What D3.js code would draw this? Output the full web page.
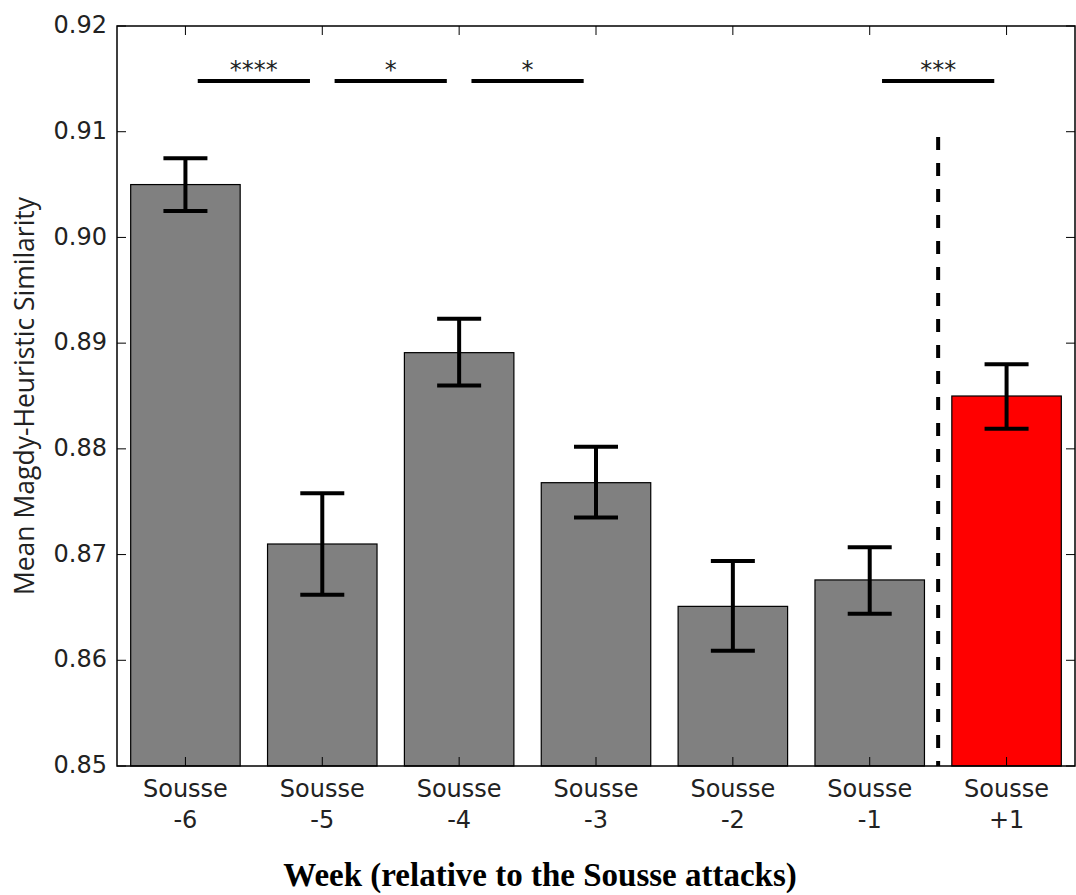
<!DOCTYPE html>
<html>
<head>
<meta charset="utf-8">
<script src="https://cdn.jsdelivr.net/npm/d3@7"></script>
<style>
  html, body { margin: 0; padding: 0; background: #fff; }
  svg { display: block; }
</style>
</head>
<body>
<svg id="chart" width="1076" height="895"></svg>
<script>
// Weekly means with error-bar bounds
const categories = ["Sousse -6", "Sousse -5", "Sousse -4", "Sousse -3", "Sousse -2", "Sousse -1", "Sousse +1"];
const tickLines = [["Sousse", "-6"], ["Sousse", "-5"], ["Sousse", "-4"], ["Sousse", "-3"], ["Sousse", "-2"], ["Sousse", "-1"], ["Sousse", "+1"]];
const means = [0.9050, 0.8710, 0.8891, 0.8768, 0.8651, 0.8676, 0.8850];
const errLow = [0.9025, 0.8662, 0.8860, 0.8735, 0.8609, 0.8644, 0.8819];
const errHigh = [0.9075, 0.8758, 0.8923, 0.8802, 0.8694, 0.8707, 0.8880];
const barColors = ["#808080", "#808080", "#808080", "#808080", "#808080", "#808080", "#ff0000"];
const yTicks = [0.85, 0.86, 0.87, 0.88, 0.89, 0.90, 0.91, 0.92];
// Significance brackets: from, to, label
const sigFrom = ["Sousse -6", "Sousse -5", "Sousse -4", "Sousse -1"];
const sigTo = ["Sousse -5", "Sousse -4", "Sousse -3", "Sousse +1"];
const sigLabels = ["****", "*", "*", "***"];
const sigLevel = 0.9148;
const dividerTop = 0.9095;

const svg = d3.select("#chart");
const L = 117, R = 1075, T = 26, B = 766;

const x = d3.scaleBand().domain(categories).range([L, R]).paddingInner(0.2).paddingOuter(0.1);
const y = d3.scaleLinear().domain([0.85, 0.92]).range([B, T]);
const step = x.step();
const cx = c => x(c) + x.bandwidth() / 2;

const tickFont = "'DejaVu Sans', sans-serif";

// Bars
svg.append("g").selectAll("rect").data(categories).join("rect")
  .attr("x", d => x(d))
  .attr("width", x.bandwidth())
  .attr("y", (d, i) => y(means[i]))
  .attr("height", (d, i) => y(0.85) - y(means[i]))
  .attr("fill", (d, i) => barColors[i])
  .attr("stroke", "#000")
  .attr("stroke-width", 1.2);

// Error bars
const eb = svg.append("g").attr("stroke", "#000").attr("stroke-width", 4);
categories.forEach((c, i) => {
  const xc = cx(c);
  eb.append("line").attr("x1", xc).attr("x2", xc).attr("y1", y(errLow[i])).attr("y2", y(errHigh[i]));
  eb.append("line").attr("x1", xc - 22).attr("x2", xc + 22).attr("y1", y(errLow[i])).attr("y2", y(errLow[i]));
  eb.append("line").attr("x1", xc - 22).attr("x2", xc + 22).attr("y1", y(errHigh[i])).attr("y2", y(errHigh[i]));
});

// Divider between pre- and post-attack weeks
const xDiv = (cx("Sousse -1") + cx("Sousse +1")) / 2;
svg.append("line")
  .attr("x1", xDiv).attr("x2", xDiv)
  .attr("y1", y(dividerTop)).attr("y2", y(0.85))
  .attr("stroke", "#000").attr("stroke-width", 4)
  .attr("stroke-dasharray", "13,13");

// Significance brackets
sigLabels.forEach((lab, i) => {
  const x1 = cx(sigFrom[i]) + 0.09 * step;
  const x2 = cx(sigTo[i]) - 0.09 * step;
  svg.append("line")
    .attr("x1", x1).attr("x2", x2)
    .attr("y1", y(sigLevel)).attr("y2", y(sigLevel))
    .attr("stroke", "#000").attr("stroke-width", 4);
  svg.append("text")
    .attr("x", (x1 + x2) / 2).attr("y", y(sigLevel) - 3)
    .attr("text-anchor", "middle")
    .attr("font-family", tickFont).attr("font-size", 24)
    .attr("fill", "#222")
    .text(lab);
});

// Frame
svg.append("rect")
  .attr("x", L).attr("y", T).attr("width", R - L).attr("height", B - T)
  .attr("fill", "none").attr("stroke", "#000").attr("stroke-width", 1.5);

// Y ticks (inside, both sides) and labels
const yAxis = svg.append("g");
yTicks.forEach(v => {
  yAxis.append("line").attr("x1", L).attr("x2", L + 9).attr("y1", y(v)).attr("y2", y(v)).attr("stroke", "#000").attr("stroke-width", 1);
  yAxis.append("line").attr("x1", R - 9).attr("x2", R).attr("y1", y(v)).attr("y2", y(v)).attr("stroke", "#000").attr("stroke-width", 1);
  yAxis.append("text")
    .attr("x", L - 10).attr("y", y(v)).attr("dy", "0.3em")
    .attr("text-anchor", "end")
    .attr("font-family", tickFont).attr("font-size", 24).attr("fill", "#222")
    .text(d3.format(".2f")(v));
});

// X ticks (inside, top and bottom) and two-line labels
const xAxis = svg.append("g");
categories.forEach((c, i) => {
  const xc = cx(c);
  xAxis.append("line").attr("x1", xc).attr("x2", xc).attr("y1", B).attr("y2", B - 9).attr("stroke", "#000").attr("stroke-width", 1);
  xAxis.append("line").attr("x1", xc).attr("x2", xc).attr("y1", T).attr("y2", T + 9).attr("stroke", "#000").attr("stroke-width", 1);
  const t = xAxis.append("text")
    .attr("text-anchor", "middle")
    .attr("font-family", tickFont).attr("font-size", 24).attr("fill", "#222");
  t.append("tspan").attr("x", xc).attr("y", 797).text(tickLines[i][0]);
  t.append("tspan").attr("x", xc).attr("y", 828).text(tickLines[i][1]);
});

// Axis titles
svg.append("text")
  .attr("transform", "translate(34," + ((T + B) / 2) + ") rotate(-90)")
  .attr("text-anchor", "middle")
  .attr("font-family", "'Open Sans', sans-serif").attr("font-size", 26.5).attr("fill", "#222")
  .text("Mean Magdy-Heuristic Similarity");

svg.append("text")
  .attr("x", 540).attr("y", 886)
  .attr("text-anchor", "middle")
  .attr("font-family", "'Liberation Serif', 'Times New Roman', serif")
  .attr("font-weight", "bold").attr("font-size", 33).attr("fill", "#000")
  .text("Week (relative to the Sousse attacks)");
</script>
</body>
</html>
